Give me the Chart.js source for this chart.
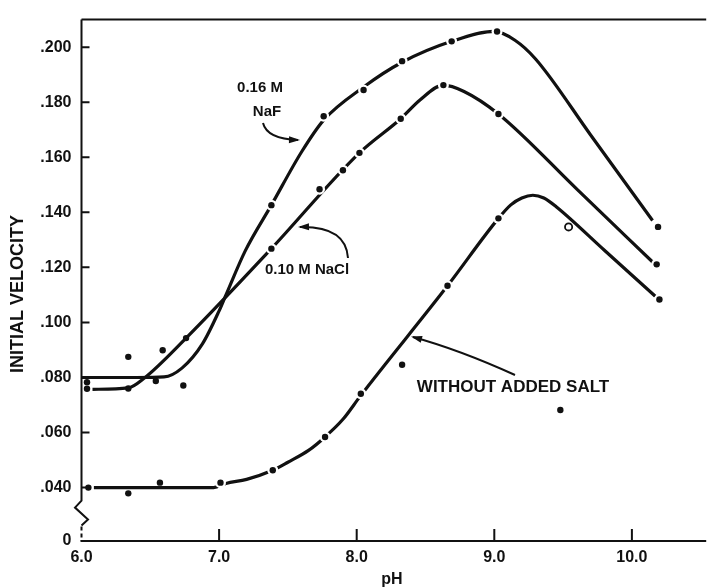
<!DOCTYPE html>
<html>
<head>
<meta charset="utf-8">
<script src="https://cdn.jsdelivr.net/npm/chart.js@4.4.1/dist/chart.umd.min.js"></script>
<style>
  html, body { margin: 0; padding: 0; background: #fff; }
</style>
</head>
<body>
<canvas id="chart" width="712" height="587"></canvas>
<script>
// axis ticks
const phTicks = [6, 7, 8, 9, 10];
const velTicks = [0.04, 0.06, 0.08, 0.10, 0.12, 0.14, 0.16, 0.18, 0.20];
const velBreak = 0.0206;   // bottom of the broken axis, labelled "0"
const phMax = 10.54;
const velMax = 0.210;

// measured points, 0.16 M NaF
const nafPh  = [6.04, 6.34, 6.54, 6.74, 7.38, 7.76, 8.05, 8.33, 8.69, 9.02, 10.19];
const nafVel = [0.0783, 0.0875, 0.0787, 0.0771, 0.1426, 0.1749, 0.1844, 0.1949, 0.2021, 0.2057, 0.1347];
// measured points, 0.10 M NaCl
const naclPh  = [6.04, 6.34, 6.59, 6.76, 7.38, 7.73, 7.90, 8.02, 8.32, 8.63, 9.03, 10.18];
const naclVel = [0.0759, 0.0760, 0.0899, 0.0943, 0.1268, 0.1484, 0.1553, 0.1616, 0.1740, 0.1862, 0.1757, 0.1211];
// measured points, without added salt
const saltPh  = [6.05, 6.34, 6.57, 7.01, 7.39, 7.77, 8.03, 8.33, 8.66, 9.03, 9.48, 10.20];
const saltVel = [0.0400, 0.0379, 0.0418, 0.0418, 0.0463, 0.0584, 0.0741, 0.0846, 0.1133, 0.1378, 0.0682, 0.1083];
const saltOpenPh  = [9.54];
const saltOpenVel = [0.1347];

// hand drawn curves through the points
const nafCurvePh  = [6.0, 6.4, 6.6, 6.73, 6.88, 7.0, 7.05, 7.19, 7.38, 7.6, 7.76, 8.05, 8.33, 8.69, 9.0, 9.15, 9.3, 9.7, 10.15];
const nafCurveVel = [0.080, 0.080, 0.0802, 0.0834, 0.0923, 0.1042, 0.110, 0.126, 0.1426, 0.162, 0.1735, 0.1855, 0.1945, 0.2021, 0.2057, 0.2025, 0.1957, 0.1681, 0.137];
const naclCurvePh  = [6.08, 6.34, 6.45, 6.76, 7.38, 8.02, 8.32, 8.46, 8.63, 8.78, 9.03, 9.6, 10.16];
const naclCurveVel = [0.0757, 0.0762, 0.0795, 0.0943, 0.1268, 0.1616, 0.1740, 0.1808, 0.1862, 0.1839, 0.1757, 0.1484, 0.1215];
const saltCurvePh  = [6.09, 6.96, 7.05, 7.2, 7.39, 7.5, 7.65, 7.77, 7.9, 8.03, 8.66, 9.03, 9.12, 9.2, 9.28, 9.36, 9.45, 9.8, 10.17];
const saltCurveVel = [0.0400, 0.0400, 0.0415, 0.0430, 0.0463, 0.0492, 0.0535, 0.0584, 0.0648, 0.0735, 0.1133, 0.1378, 0.1427, 0.1452, 0.1462, 0.1452, 0.1420, 0.1262, 0.1095];

const ink = '#111';
const pts = (xs, ys) => xs.map((x, i) => ({ x: x, y: ys[i] }));

function curve(xs, ys) {
  return { data: pts(xs, ys), showLine: true, borderColor: ink, borderWidth: 3.2,
    pointRadius: 0, cubicInterpolationMode: 'monotone', order: 3 };
}
function halo(xs, ys) {
  // white ring that breaks the curve around each dot, like the pen drawing
  return { data: pts(xs, ys), showLine: false, pointBorderWidth: 0,
    pointBackgroundColor: '#fff', order: 2,
    pointRadius: c => (c.raw && c.raw.x > 6.9 ? 5.5 : 0) };
}
function dots(xs, ys) {
  return { data: pts(xs, ys), showLine: false, pointRadius: 3.2, pointBorderWidth: 0,
    pointBackgroundColor: ink, order: 1 };
}

function arrow(ctx, x0, y0, cx, cy, x1, y1) {
  ctx.beginPath();
  ctx.moveTo(x0, y0);
  ctx.quadraticCurveTo(cx, cy, x1, y1);
  ctx.stroke();
  const a = Math.atan2(y1 - cy, x1 - cx);
  ctx.beginPath();
  ctx.moveTo(x1 + 2 * Math.cos(a), y1 + 2 * Math.sin(a));
  ctx.lineTo(x1 - 9 * Math.cos(a) + 3.5 * Math.sin(a), y1 - 9 * Math.sin(a) - 3.5 * Math.cos(a));
  ctx.lineTo(x1 - 9 * Math.cos(a) - 3.5 * Math.sin(a), y1 - 9 * Math.sin(a) + 3.5 * Math.cos(a));
  ctx.closePath();
  ctx.fill();
}

const frame = {
  id: 'frame',
  beforeDatasetsDraw(chart) {
    const { ctx, chartArea: a, scales: { x, y } } = chart;
    ctx.save();
    ctx.strokeStyle = ink;
    ctx.lineWidth = 2;
    ctx.beginPath();
    ctx.moveTo(a.left, a.top);
    ctx.lineTo(a.right, a.top);
    // y axis with the break under .040
    const yb = y.getPixelForValue(0.04) + 13;
    ctx.moveTo(a.left, a.top);
    ctx.lineTo(a.left, yb);
    ctx.lineTo(a.left - 6.5, yb + 7);
    ctx.lineTo(a.left + 6.5, yb + 19);
    ctx.lineTo(a.left, yb + 25);
    ctx.stroke();
    ctx.setLineDash([4, 3]);
    ctx.beginPath();
    ctx.moveTo(a.left, yb + 26);
    ctx.lineTo(a.left, a.bottom);
    ctx.stroke();
    ctx.setLineDash([]);
    ctx.beginPath();
    ctx.moveTo(a.left - 1, a.bottom);
    ctx.lineTo(a.right, a.bottom);
    // inward ticks
    phTicks.slice(1).forEach(v => {
      const px = x.getPixelForValue(v);
      ctx.moveTo(px, a.bottom);
      ctx.lineTo(px, a.bottom - 12);
    });
    velTicks.forEach(v => {
      const py = y.getPixelForValue(v);
      ctx.moveTo(a.left, py);
      ctx.lineTo(a.left + 8, py);
    });
    ctx.stroke();
    ctx.restore();
  },
  afterDraw(chart) {
    const { ctx } = chart;
    ctx.save();
    ctx.fillStyle = ink;
    ctx.strokeStyle = ink;
    ctx.textAlign = 'center';
    ctx.textBaseline = 'middle';
    ctx.font = 'bold 15px "Liberation Sans", Arial, sans-serif';
    ctx.fillText('0.16 M', 260, 88);
    ctx.fillText('NaF', 267, 112);
    ctx.fillText('0.10 M NaCl', 307, 270);
    ctx.font = 'bold 17px "Liberation Sans", Arial, sans-serif';
    ctx.fillText('WITHOUT ADDED SALT', 513, 387);
    ctx.font = 'bold 16px "Liberation Sans", Arial, sans-serif';
    ctx.fillText('pH', 392, 580);
    ctx.save();
    ctx.translate(18, 294);
    ctx.rotate(-Math.PI / 2);
    ctx.font = 'bold 18px "Liberation Sans", Arial, sans-serif';
    ctx.fillText('INITIAL VELOCITY', 0, 0);
    ctx.restore();
    ctx.lineWidth = 2;
    arrow(ctx, 263, 123, 267, 139, 298, 140);
    arrow(ctx, 348, 258, 346, 226, 300, 227);
    arrow(ctx, 515, 375, 460, 350, 413, 337);
    ctx.restore();
  }
};

Chart.defaults.font.family = '"Liberation Sans", Arial, sans-serif';
Chart.defaults.font.weight = 'bold';
Chart.defaults.font.size = 16;
Chart.defaults.color = ink;

new Chart(document.getElementById('chart'), {
  type: 'scatter',
  data: {
    datasets: [
      curve(nafCurvePh, nafCurveVel),
      curve(naclCurvePh, naclCurveVel),
      curve(saltCurvePh, saltCurveVel),
      halo(nafPh, nafVel),
      halo(naclPh, naclVel),
      halo(saltPh, saltVel),
      dots(nafPh, nafVel),
      dots(naclPh, naclVel),
      dots(saltPh, saltVel),
      { data: pts(saltOpenPh, saltOpenVel), showLine: false, pointRadius: 3.6,
        pointBackgroundColor: '#fff', pointBorderColor: ink, pointBorderWidth: 1.8, order: 0 }
    ]
  },
  options: {
    responsive: false,
    animation: false,
    devicePixelRatio: 1,
    layout: { padding: { top: 10, right: 0, left: 0, bottom: 0 } },
    plugins: { legend: { display: false }, tooltip: { enabled: false } },
    scales: {
      x: {
        type: 'linear', min: 6, max: phMax,
        grid: { display: false, drawTicks: false },
        border: { display: false },
        ticks: { autoSkip: false, padding: 7, maxRotation: 0, callback: v => v.toFixed(1) },
        afterBuildTicks: s => { s.ticks = phTicks.map(v => ({ value: v })); },
        afterFit: s => { s.height = 46; }
      },
      y: {
        type: 'linear', min: velBreak, max: velMax,
        grid: { display: false, drawTicks: false },
        border: { display: false },
        ticks: {
          autoSkip: false, padding: 10,
          callback: v => (v < 0.03 ? '0' : '.' + String(Math.round(v * 1000)).padStart(3, '0'))
        },
        afterBuildTicks: s => { s.ticks = [velBreak].concat(velTicks).map(v => ({ value: v })); },
        afterFit: s => { s.width = 81.5; }
      }
    }
  },
  plugins: [frame]
});
</script>
</body>
</html>
